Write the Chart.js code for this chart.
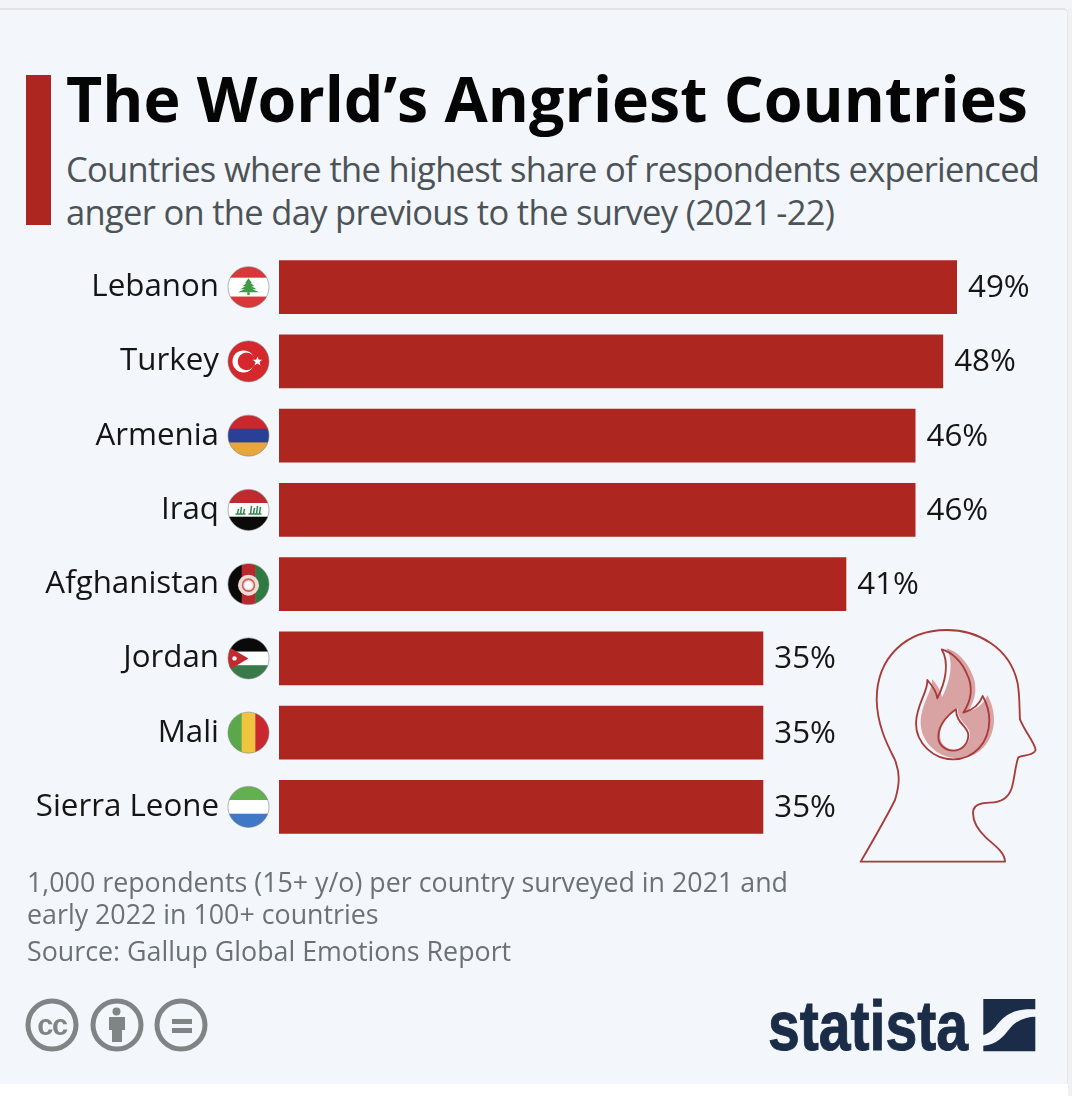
<!DOCTYPE html>
<html><head><meta charset="utf-8">
<script src="https://cdn.jsdelivr.net/npm/chart.js@4"></script>
<style>
html,body{margin:0;padding:0;background:#fff;width:1072px;height:1096px;overflow:hidden}
#top{position:absolute;left:0;top:0;width:1072px;height:8px;background:#f2f4f8}
#panel{position:absolute;left:0;top:8px;width:1068px;height:1076px;background:#f3f6fa;border-top:2px solid #e3e4e6;box-sizing:border-box;border-right:1px solid #e6e7ea;border-radius:0 4px 0 0}
#rstrip{position:absolute;left:1068px;top:8px;width:4px;height:1088px;background:#f0f1f3}
#accent{position:absolute;left:26px;top:75px;width:25px;height:150px;background:#ae2620}
.t{position:absolute;white-space:nowrap;font-family:"Open Sans",sans-serif;margin:0}
#title{left:66px;top:55px;font-size:62.7px;line-height:85px;font-weight:700;color:#050505}
.sub{left:66px;font-size:34.5px;line-height:43px;color:#4b5357;letter-spacing:-.68px}
.note{left:27px;font-size:26.8px;line-height:33px;color:#6b7274}
canvas#c{position:absolute;left:0;top:0}
svg.o{position:absolute;left:0;top:0;pointer-events:none}
</style></head><body>
<div id="top"></div><div id="panel"></div><div id="rstrip"></div><div id="accent"></div>
<h1 class="t" id="title">The World’s Angriest Countries</h1>
<div class="t sub" style="top:147px">Countries where the highest share of respondents experienced</div>
<div class="t sub" style="top:190px">anger on the day previous to the survey (202<span style="letter-spacing:4.3px">1</span>-22)</div>
<canvas id="c" width="1072" height="1096" style="width:1072px;height:1096px"></canvas>
<div class="t note" style="top:865px">1,000 repondents (15+ y/o) per country surveyed in 2021 and</div>
<div class="t note" style="top:897px">early 2022 in 100+ countries</div>
<div class="t note" style="top:934px">Source: Gallup Global Emotions Report</div>
<svg class="o" width="1072" height="1096" viewBox="0 0 1072 1096">
 <g transform="translate(850 620) scale(.3333)" fill="none" stroke="#a83a38" stroke-width="5.5" stroke-linejoin="round">
  <path d="M32 725L465 725C465 700 440 680 410 655C385 632 365 600 370 570C375 552 395 548 420 548C455 548 475 535 485 505C495 470 495 440 505 412C520 405 550 408 557 390C555 370 525 335 510 298C508 270 510 230 503 190C480 80 380 30 290 30C170 30 80 110 80 240C82 320 115 380 135 420C150 460 150 490 135 540C110 590 70 660 32 725Z"/>
  <path transform="translate(14 -3)" stroke="none" fill="#d9a3a3" d="M275 88C300 130 285 190 262 235C260 215 245 195 232 180C235 215 200 250 198 310C198 370 250 418 310 418C370 418 418 370 418 300C418 275 410 250 398 228C390 250 370 270 340 278C365 240 370 200 350 160C335 125 305 95 275 88Z"/>
  <path transform="translate(5 -3)" stroke="none" fill="#f3f6fa" d="M318 268C300 280 265 310 265 350C265 375 285 392 310 392C335 392 355 372 355 345C355 320 318 310 318 268Z"/>
  <path d="M275 88C300 130 285 190 262 235C260 215 245 195 232 180C235 215 200 250 198 310C198 370 250 418 310 418C370 418 418 370 418 300C418 275 410 250 398 228C390 250 370 270 340 278C365 240 370 200 350 160C335 125 305 95 275 88Z"/>
  <path d="M318 268C300 280 265 310 265 350C265 375 285 392 310 392C335 392 355 372 355 345C355 320 318 310 318 268Z"/>
 </g>
 <g fill="none" stroke="#7f8485" stroke-width="5">
  <circle cx="52" cy="1025" r="24"/><circle cx="117" cy="1025" r="24"/><circle cx="181" cy="1025" r="24"/>
 </g>
 <text x="52" y="1035" text-anchor="middle" font-family="Liberation Sans" font-weight="700" font-size="29" fill="#7f8485" letter-spacing="-1.5">cc</text>
 <g fill="#7f8485">
  <circle cx="116.500" cy="1011.500" r="4"/>
  <path d="M109 1017H125V1030H122V1042H112V1030H109Z"/>
  <rect x="172" y="1019" width="20" height="5"/><rect x="172" y="1028" width="20" height="5"/>
 </g>
 <text x="768" y="1050" textLength="200" lengthAdjust="spacingAndGlyphs" font-family="Liberation Sans Narrow, Liberation Sans" font-weight="700" font-size="70" fill="#1a2c47" stroke="#1a2c47" stroke-width="1">statista</text>
 <g transform="translate(740 980) scale(.3333)" fill="#1a2c47">
  <path d="M730 57H886V88C830 85 800 100 775 130C760 150 745 162 730 165Z"/>
  <path d="M886 110V214H730V197C770 195 790 170 810 145C830 120 860 110 886 110Z"/>
 </g>
</svg>
<script>
const countries = ["Lebanon","Turkey","Armenia","Iraq","Afghanistan","Jordan","Mali","Sierra Leone"];
const shares = [49,48,46,46,41,35,35,35];
const barColor = "#ae2620";

const flagPainters = {
  Lebanon(x,cx,cy,r){ bandsH(x,cx,cy,r,[["#d7393a",.27],["#fff",.46],["#d7393a",.27]]);
    x.fillStyle="#3f9a4a";
    [[-9,-4,3.5],[-6,-1,6],[-3,2,8],[0,5,10.5]].forEach(([t,b,w])=>{x.beginPath();x.moveTo(cx,cy+t);x.lineTo(cx+w,cy+b);x.lineTo(cx-w,cy+b);x.fill();});
    x.fillRect(cx-1.2,cy+5,2.4,3);},
  Turkey(x,cx,cy,r){ x.fillStyle="#d5282d";x.fillRect(cx-r,cy-r,2*r,2*r);
    x.fillStyle="#fff";x.beginPath();x.arc(cx-5,cy,11,0,7);x.fill();
    x.fillStyle="#d5282d";x.beginPath();x.arc(cx-2,cy,8.800,0,7);x.fill();
    star(x,cx+9,cy,5,"#fff");},
  Armenia(x,cx,cy,r){ bandsH(x,cx,cy,r,[["#c8282e",1/3],["#2a3f96",1/3],["#e9a63b",1/3]]);},
  Iraq(x,cx,cy,r){ bandsH(x,cx,cy,r,[["#bf2a2e",1/3],["#fff",1/3],["#0a0a0a",1/3]]);
    x.strokeStyle="#2f8a4a";x.lineWidth=1.5;
    [[-11,-1],[-8,-3],[-5,-1],[2,-4],[5,-2],[8,-4],[11,-3]].forEach(([d,h])=>{x.beginPath();x.moveTo(cx+d,cy+4);x.lineTo(cx+d+1,cy+h);x.stroke();});
    x.beginPath();x.moveTo(cx-13,cy+4);x.lineTo(cx-3,cy+4);x.moveTo(cx,cy+4);x.lineTo(cx+13,cy+4);x.stroke();},
  Afghanistan(x,cx,cy,r){ bandsV(x,cx,cy,r,[["#0a0a0a",1/3],["#b9282c",1/3],["#2f7a42",1/3]]);
    x.fillStyle="#f0dcd4";x.beginPath();x.arc(cx,cy+1,10.5,0,7);x.fill();
    x.strokeStyle="#c9635f";x.lineWidth=1.6;x.beginPath();x.arc(cx,cy+1,6,0,7);x.stroke();
    x.fillStyle="#fff";x.beginPath();x.arc(cx,cy+1,3.5,0,7);x.fill();},
  Jordan(x,cx,cy,r){ bandsH(x,cx,cy,r,[["#0a0a0a",1/3],["#fff",1/3],["#3a7a4a",1/3]]);
    x.fillStyle="#c22a30";x.beginPath();x.moveTo(cx-r,cy-12);x.lineTo(cx,cy);x.lineTo(cx-r,cy+12);x.fill();
    x.fillStyle="#fff";x.beginPath();x.arc(cx-14,cy,2.200,0,7);x.fill();},
  Mali(x,cx,cy,r){ bandsV(x,cx,cy,r,[["#5aa84a",1/3],["#efc53f",1/3],["#c8282e",1/3]]);},
  "Sierra Leone"(x,cx,cy,r){ bandsH(x,cx,cy,r,[["#63b04f",1/3],["#fff",1/3],["#3f78c4",1/3]]);}
};
function bandsH(x,cx,cy,r,b){let y=cy-r;b.forEach(([c,f])=>{x.fillStyle=c;x.fillRect(cx-r,y,2*r,2*r*f+.5);y+=2*r*f;});}
function bandsV(x,cx,cy,r,b){let l=cx-r;b.forEach(([c,f])=>{x.fillStyle=c;x.fillRect(l,cy-r,2*r*f+.5,2*r);l+=2*r*f;});}
function star(x,cx,cy,R,c){x.fillStyle=c;x.beginPath();for(let i=0;i<10;i++){const a=-Math.PI/2+i*Math.PI/5,q=i%2?R*.42:R;x.lineTo(cx+Math.cos(a)*q,cy+Math.sin(a)*q);}x.fill();}

const decorations = {
  id:"decorations",
  afterDatasetsDraw(chart){
    const x=chart.ctx, ys=chart.scales.y, xs=chart.scales.x;
    x.save();
    x.font='31.3px "Open Sans"';x.fillStyle="#151515";x.textAlign="left";x.textBaseline="middle";
    shares.forEach((v,i)=>x.fillText(v+"%",xs.getPixelForValue(v)+11,ys.getPixelForValue(i)+1));
    countries.forEach((n,i)=>{
      const cx=248.500,cy=ys.getPixelForValue(i),r=20.500;
      x.save();x.beginPath();x.arc(cx,cy,r,0,7);x.clip();flagPainters[n](x,cx,cy,r);x.restore();
      x.strokeStyle="rgba(120,120,120,.55)";x.lineWidth=1;x.beginPath();x.arc(cx,cy,r,0,7);x.stroke();
    });
    x.restore();
  }
};

new Chart(document.getElementById("c"),{
  type:"bar",
  plugins:[decorations],
  data:{labels:countries,datasets:[{data:shares,backgroundColor:barColor,barPercentage:.727,categoryPercentage:1}]},
  options:{
    indexAxis:"y",responsive:false,animation:false,devicePixelRatio:1,
    layout:{padding:{left:0,right:115,top:250,bottom:252}},
    plugins:{legend:{display:false},tooltip:{enabled:false},title:{display:false}},
    scales:{
      x:{display:false,min:0,max:49},
      y:{grid:{display:false,drawTicks:false},border:{display:false},
        afterFit(s){s.width=279;},
        ticks:{padding:60,color:"#151515",font:{family:"Open Sans",size:31.3}}}
    }
  }
});
</script>
</body></html>
